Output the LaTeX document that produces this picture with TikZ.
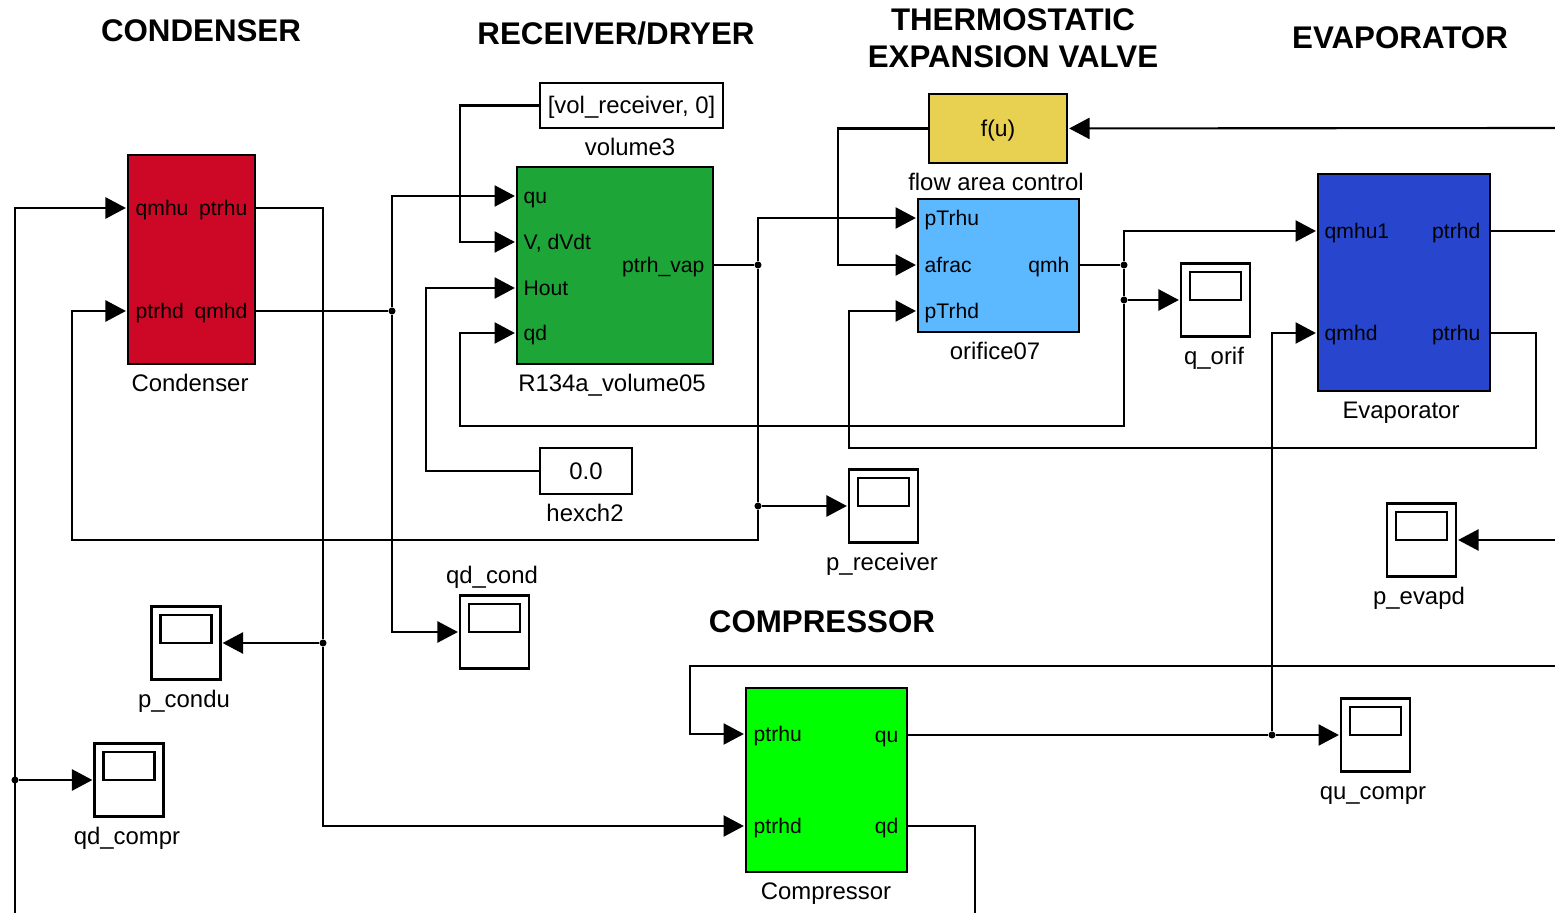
\documentclass[tikz,border=0pt]{standalone}
\usepackage{fontspec}
\setmainfont{Liberation Sans}
\usetikzlibrary{arrows.meta}
\definecolor{condred}{RGB}{204,8,38}
\definecolor{recvgreen}{RGB}{30,165,55}
\definecolor{fuyellow}{RGB}{232,208,80}
\definecolor{orifblue}{RGB}{92,184,255}
\definecolor{evapblue}{RGB}{40,70,205}
\definecolor{compgreen}{RGB}{0,255,0}
\newcommand{\pxu}{0.2845pt}
\tikzset{
  blockbox/.style={draw, line width=0.7pt, outer sep=0pt, inner sep=0pt, anchor=north west},
  constbox/.style={draw, fill=white, line width=0.6pt, outer sep=0pt, inner sep=0pt, anchor=north west, text height=6pt, text depth=1.3pt, font=\fontsize{6.8}{8}\selectfont},
  scopebox/.style={draw, fill=white, line width=0.6pt, outer sep=0pt, inner sep=0pt, minimum width=69*\pxu, minimum height=73*\pxu},
  screenbox/.style={draw, line width=0.6pt, inner sep=0pt, minimum width=51*\pxu, minimum height=28*\pxu},
  blocklabel/.style={inner sep=0pt, text height=6pt, text depth=1.3pt, font=\fontsize{6.8}{8}\selectfont},
  portwest/.style={inner sep=0pt, text height=5.6pt, text depth=1.06pt, anchor=west, font=\fontsize{6}{8}\selectfont},
  porteast/.style={portwest, anchor=east},
  sectiontitle/.style={inner sep=0pt, align=center, font=\fontsize{8.9}{10.5}\selectfont\bfseries},
  wire/.style={line width=0.6pt},
  feed/.style={wire, -{Triangle[length=5.8pt,width=6pt]}, shorten >=0.6pt},
  jdot/.style={circle, fill=black, inner sep=0pt, minimum size=2pt}
}

\begin{document}
\begin{tikzpicture}[x=0.01cm,y=-0.01cm]
        \useasboundingbox (0,0) rectangle (1555,913);

        \node[sectiontitle] (tcond) at (201,31) {CONDENSER};
        \node[sectiontitle] (trecv) at (616,33) {RECEIVER/DRYER};
        \node[sectiontitle] (tvalve) at (1013,38) {THERMOSTATIC\\EXPANSION VALVE};
        \node[sectiontitle] (tevap) at (1400,38) {EVAPORATOR};
        \node[sectiontitle] (tcomp) at (822,622) {COMPRESSOR};

        \node[blockbox, fill=condred, minimum width=127*\pxu, minimum height=209*\pxu] (cond) at (128,155) {};
        \node[portwest] (cqmhu) at (135,208) {qmhu};
        \node[porteast] (cptrhu) at (248,208) {ptrhu};
        \node[portwest] (cptrhd) at (135,311) {ptrhd};
        \node[porteast] (cqmhd) at (248,311) {qmhd};
        \node[blocklabel] (lcond) at (190,383) {Condenser};

        \node[blockbox, fill=recvgreen, minimum width=196*\pxu, minimum height=197*\pxu] (recv) at (517,167) {};
        \node[portwest] (rqu) at (523,196) {qu};
        \node[portwest] (rvdvdt) at (523,242) {V, dVdt};
        \node[portwest] (rhout) at (523,288) {Hout};
        \node[portwest] (rqd) at (523,333) {qd};
        \node[porteast] (rptrh) at (705,265) {ptrh\_vap};
        \node[blocklabel] (lrecv) at (612,383) {R134a\_volume05};

        \node[constbox, minimum width=183*\pxu, minimum height=45*\pxu] (volume) at (540,83) {[vol\_receiver, 0]};
        \node[blocklabel] (lvolume) at (630,147) {volume3};
        \node[constbox, minimum width=92*\pxu, minimum height=46*\pxu] (hexch) at (540,448) {0.0};
        \node[blocklabel] (lhexch) at (585,513) {hexch2};

        \node[blockbox, fill=fuyellow, minimum width=138*\pxu, minimum height=69*\pxu, text height=6pt, text depth=1.3pt, font=\fontsize{6.5}{8}\selectfont] (fu) at (929,94) {f(u)};
        \node[blocklabel] (lfu) at (996,182) {flow area control};

        \node[blockbox, fill=orifblue, minimum width=161*\pxu, minimum height=133*\pxu] (orif) at (918,199) {};
        \node[portwest] (opTrhu) at (924,218) {pTrhu};
        \node[portwest] (oafrac) at (924,265) {afrac};
        \node[portwest] (opTrhd) at (924,311) {pTrhd};
        \node[porteast] (oqmh) at (1070,265) {qmh};
        \node[blocklabel] (lorif) at (995,351) {orifice07};

        \node[blockbox, fill=evapblue, minimum width=172*\pxu, minimum height=217*\pxu] (evap) at (1318,174) {};
        \node[portwest] (eqmhu) at (1324,231) {qmhu1};
        \node[porteast] (eptrhd) at (1481,231) {ptrhd};
        \node[portwest] (eqmhd) at (1324,333) {qmhd};
        \node[porteast] (eptrhu) at (1481,333) {ptrhu};
        \node[blocklabel] (levap) at (1401,410) {Evaporator};

        \node[blockbox, fill=compgreen, minimum width=161*\pxu, minimum height=184*\pxu] (comp) at (746,688) {};
        \node[portwest] (kptrhu) at (753,734) {ptrhu};
        \node[portwest] (kptrhd) at (753,826) {ptrhd};
        \node[porteast] (kqu) at (899,735) {qu};
        \node[porteast] (kqd) at (899,826) {qd};
        \node[blocklabel] (lcomp) at (826,891) {Compressor};

        \node[scopebox] (qorif) at (1215.5,300) {};
        \node[screenbox] (sqorif) at (1215.5,286) {};
        \node[blocklabel] (lqorif) at (1214,356) {q\_orif};
        \node[scopebox] (preceiver) at (883.5,506) {};
        \node[screenbox] (spreceiver) at (883.5,492) {};
        \node[blocklabel] (lpreceiver) at (882,562) {p\_receiver};
        \node[scopebox] (pevapd) at (1421.5,540) {};
        \node[screenbox] (spevapd) at (1421.5,526) {};
        \node[blocklabel] (lpevapd) at (1419,596) {p\_evapd};
        \node[scopebox] (qucompr) at (1375.5,735) {};
        \node[screenbox] (squcompr) at (1375.5,721) {};
        \node[blocklabel] (lqucompr) at (1373,791) {qu\_compr};
        \node[scopebox] (qdcond) at (494.5,632) {};
        \node[screenbox] (sqdcond) at (494.5,618) {};
        \node[blocklabel] (lqdcond) at (492,575) {qd\_cond};
        \node[scopebox] (pcondu) at (186,643) {};
        \node[screenbox] (spcondu) at (186,629) {};
        \node[blocklabel] (lpcondu) at (184,699) {p\_condu};
        \node[scopebox] (qdcompr) at (129,780) {};
        \node[screenbox] (sqdcompr) at (129,766) {};
        \node[blocklabel] (lqdcompr) at (127,836) {qd\_compr};

        \node[jdot] (jfeed) at (15,780) {};
        \node[jdot] (jcondu) at (323,643) {};
        \node[jdot] (jcondd) at (392,311) {};
        \node[jdot] (jrecv) at (758,265) {};
        \node[jdot] (jrecvb) at (758,506) {};
        \node[jdot] (jqmh) at (1124,265) {};
        \node[jdot] (jqorif) at (1124,300) {};
        \node[jdot] (jcomp) at (1272,735) {};

        \coordinate (edgea) at (15,913);
        \coordinate (edgeb) at (1555,128);
        \coordinate (edgec) at (1555,231);
        \coordinate (edged) at (975,913);
        \coordinate (edgee) at (1555,666);
        \coordinate (edgef) at (1555,540);
        \coordinate (vbus) at (460,242);
        \coordinate (hbus) at (426,288);
        \coordinate (pbus) at (72,540);
        \coordinate (abus) at (838,265);
        \coordinate (qbus) at (460,426);
        \coordinate (ebus) at (1536,448);
        \coordinate (obus) at (849,448);
        \coordinate (kbus) at (690,666);

        \draw[feed] (edgea) |- (cond.west |- cqmhu);
        \draw[feed] (jfeed) -- (qdcompr);
        \draw[wire] (cond.east |- cptrhu) -| (jcondu);
        \draw[feed] (jcondu) -- (pcondu);
        \draw[feed] (jcondu) |- (comp.west |- kptrhd);
        \draw[wire] (cond.east |- cqmhd) -- (jcondd);
        \draw[feed] (jcondd) |- (recv.west |- rqu);
        \draw[feed] (jcondd) |- (qdcond);
        \draw[feed] (volume.west) -| (vbus) -- (recv.west |- rvdvdt);
        \draw[feed] (hexch.west) -| (hbus) -- (recv.west |- rhout);
        \draw[wire] (recv.east |- rptrh) -- (jrecv);
        \draw[feed] (jrecv) |- (orif.west |- opTrhu);
        \draw[wire] (jrecv) -- (jrecvb);
        \draw[feed] (jrecvb) -- (preceiver);
        \draw[feed] (jrecvb) |- (pbus) |- (cond.west |- cptrhd);
        \draw[feed] (edgeb) -- (fu);
        \draw[feed] (fu.west) -| (abus) -- (orif.west |- oafrac);
        \draw[wire] (orif.east |- oqmh) -- (jqmh);
        \draw[feed] (jqmh) |- (evap.west |- eqmhu);
        \draw[wire] (jqmh) -- (jqorif);
        \draw[feed] (jqorif) -- (qorif);
        \draw[feed] (jqorif) |- (qbus) |- (recv.west |- rqd);
        \draw[wire] (evap.east |- eptrhd) -- (edgec);
        \draw[feed] (evap.east |- eptrhu) -| (ebus) -- (obus) |- (orif.west |- opTrhd);
        \draw[wire] (comp.east |- kqu) -- (jcomp);
        \draw[feed] (jcomp) -- (qucompr);
        \draw[feed] (jcomp) |- (evap.west |- eqmhd);
        \draw[wire] (comp.east |- kqd) -| (edged);
        \draw[feed] (edgee) -- (kbus) |- (comp.west |- kptrhu);
        \draw[feed] (edgef) -- (pevapd);
      \end{tikzpicture}
\end{document}
